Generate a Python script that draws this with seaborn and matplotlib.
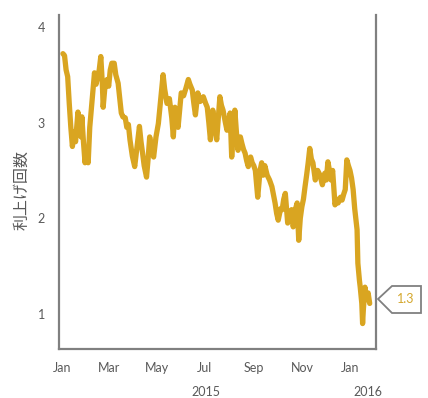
import pandas as pd
import matplotlib
matplotlib.use("Agg")
import matplotlib.pyplot as plt
import matplotlib.dates as mdates
from matplotlib.patches import Polygon
import seaborn as sns

# Datos: fecha y numero de subidas de tipos
fechas = [
    "2015-01-02", "2015-01-04", "2015-01-06", "2015-01-08", "2015-01-10", "2015-01-12",
    "2015-01-14", "2015-01-16", "2015-01-18", "2015-01-21", "2015-01-23", "2015-01-25",
    "2015-01-26", "2015-01-28", "2015-01-30", "2015-02-01", "2015-02-03", "2015-02-05",
    "2015-02-08", "2015-02-09", "2015-02-11", "2015-02-13", "2015-02-15", "2015-02-17",
    "2015-02-19", "2015-02-21", "2015-02-22", "2015-02-24", "2015-02-27", "2015-03-01",
    "2015-03-03", "2015-03-05", "2015-03-08", "2015-03-10", "2015-03-13", "2015-03-15",
    "2015-03-17", "2015-03-19", "2015-03-22", "2015-03-24", "2015-03-26", "2015-03-28",
    "2015-03-31", "2015-04-03", "2015-04-06", "2015-04-09", "2015-04-11", "2015-04-13",
    "2015-04-15", "2015-04-18", "2015-04-20", "2015-04-22", "2015-04-25", "2015-04-27",
    "2015-04-30", "2015-05-03", "2015-05-06", "2015-05-09", "2015-05-11", "2015-05-14",
    "2015-05-17", "2015-05-20", "2015-05-22", "2015-05-24", "2015-05-26", "2015-05-28",
    "2015-06-01", "2015-06-04", "2015-06-07", "2015-06-10", "2015-06-12", "2015-06-15",
    "2015-06-17", "2015-06-19", "2015-06-22", "2015-06-25", "2015-06-29", "2015-07-02",
    "2015-07-04", "2015-07-06", "2015-07-08", "2015-07-11", "2015-07-13", "2015-07-16",
    "2015-07-18", "2015-07-20", "2015-07-22", "2015-07-24", "2015-07-27", "2015-07-29",
    "2015-08-02", "2015-08-04", "2015-08-06", "2015-08-08", "2015-08-10", "2015-08-12",
    "2015-08-15", "2015-08-17", "2015-08-19", "2015-08-21", "2015-08-23", "2015-08-25",
    "2015-08-28", "2015-08-30", "2015-09-01", "2015-09-03", "2015-09-06", "2015-09-09",
    "2015-09-11", "2015-09-13", "2015-09-15", "2015-09-18", "2015-09-21", "2015-09-24",
    "2015-09-28", "2015-09-30", "2015-10-02", "2015-10-05", "2015-10-07", "2015-10-09",
    "2015-10-11", "2015-10-14", "2015-10-16", "2015-10-19", "2015-10-21", "2015-10-24",
    "2015-10-26", "2015-10-28", "2015-10-30", "2015-11-01", "2015-11-03", "2015-11-05",
    "2015-11-07", "2015-11-09", "2015-11-11", "2015-11-13", "2015-11-15", "2015-11-18",
    "2015-11-21", "2015-11-24", "2015-11-27", "2015-11-30", "2015-12-02", "2015-12-04",
    "2015-12-06", "2015-12-08", "2015-12-10", "2015-12-13", "2015-12-15", "2015-12-17",
    "2015-12-20", "2015-12-22", "2015-12-24", "2015-12-26", "2015-12-28", "2015-12-30",
    "2016-01-01", "2016-01-03", "2016-01-05", "2016-01-07", "2016-01-10", "2016-01-11",
    "2016-01-13", "2016-01-14", "2016-01-16", "2016-01-17", "2016-01-18", "2016-01-20",
    "2016-01-22", "2016-01-24", "2016-01-26",
]
subidas = [
    3.72, 3.70, 3.55, 3.48, 3.20, 2.95,
    2.75, 2.90, 2.80, 3.11, 2.95, 2.85,
    3.06, 2.80, 2.58, 2.70, 2.58, 2.95,
    3.24, 3.35, 3.52, 3.40, 3.48, 3.55,
    3.69, 3.40, 3.16, 3.35, 3.45, 3.38,
    3.55, 3.62, 3.62, 3.50, 3.41, 3.25,
    3.10, 3.06, 3.05, 2.95, 2.98, 2.82,
    2.65, 2.54, 2.75, 2.96, 2.80, 2.68,
    2.55, 2.43, 2.62, 2.85, 2.70, 2.64,
    2.85, 2.99, 3.25, 3.50, 3.35, 3.20,
    3.25, 3.05, 2.85, 3.16, 3.05, 2.95,
    3.31, 3.28, 3.36, 3.45, 3.40, 3.34,
    3.20, 3.08, 3.31, 3.22, 3.27, 3.20,
    3.16, 3.00, 2.82, 3.13, 3.00, 2.82,
    3.05, 3.27, 3.18, 3.13, 3.00, 2.92,
    3.10, 2.64, 2.90, 3.13, 2.90, 2.71,
    2.85, 2.78, 2.72, 2.68, 2.60, 2.54,
    2.64, 2.58, 2.55, 2.50, 2.22, 2.50,
    2.58, 2.45, 2.55, 2.45, 2.40, 2.33,
    2.16, 2.05, 1.98, 2.10, 2.09, 2.20,
    2.26, 1.95, 2.05, 2.09, 1.91, 2.10,
    2.16, 1.77, 2.00, 2.12, 2.20, 2.33,
    2.45, 2.58, 2.73, 2.62, 2.58, 2.40,
    2.50, 2.45, 2.35, 2.47, 2.40, 2.59,
    2.50, 2.40, 2.50, 2.14, 2.20, 2.16,
    2.22, 2.19, 2.25, 2.30, 2.61, 2.55,
    2.50, 2.42, 2.30, 2.10, 1.88, 1.53,
    1.35, 1.28, 1.11, 0.90, 1.05, 1.28,
    1.15, 1.22, 1.11,
]

etiquetas_y = [1, 2, 3, 4]
ticks_x = ["2015-01-01", "2015-03-01", "2015-05-01", "2015-07-01",
           "2015-09-01", "2015-11-01", "2016-01-01"]
etiquetas_x = ["Jan", "Mar", "May", "Jul", "Sep", "Nov", "Jan"]
anios = ["2015", "2016"]
anios_pos = ["2015-07-02", "2016-01-24"]
valor_final = "1.3"

df = pd.DataFrame({"fecha": pd.to_datetime(fechas), "subidas": subidas})

sns.set_style("white")
plt.rcParams["font.family"] = ["Lato", "DejaVu Sans"]

oro = "#D9A521"
gris = "#808080"
texto = "#595959"

fig = plt.figure(figsize=(4.28, 3.98), dpi=100)
ax = fig.add_axes([59 / 428, 49 / 398, 317 / 428, 334 / 398])

sns.lineplot(data=df, x="fecha", y="subidas", color=oro, linewidth=3.8, ax=ax)

ax.set_xlim(pd.Timestamp("2014-12-28"), pd.Timestamp("2016-02-03"))
ax.set_ylim(0.634, 4.124)
ax.set_yticks(etiquetas_y)
ax.set_yticklabels([str(v) for v in etiquetas_y])
ax.set_xticks(pd.to_datetime(ticks_x))
ax.set_xticklabels(etiquetas_x)
ax.tick_params(axis="both", length=0, labelsize=9, labelcolor=texto)
ax.tick_params(axis="x", pad=9)
ax.tick_params(axis="y", pad=10)

ax.set_xlabel("")
ax.set_ylabel("利上げ回数", family=["Noto Sans CJK JP", "DejaVu Sans"],
              fontsize=11.5, color=texto)
ax.yaxis.set_label_coords(-0.09, 0.476)

for lado in ["left", "bottom", "right"]:
    ax.spines[lado].set_color(gris)
    ax.spines[lado].set_linewidth(1.6)
ax.spines["top"].set_visible(False)

# Etiquetas de anio bajo el eje
trans = ax.get_xaxis_transform()
for anio, pos in zip(anios, anios_pos):
    ax.text(mdates.date2num(pd.Timestamp(pos)), -0.128, anio, transform=trans,
            ha="center", va="center", fontsize=9, color=texto)

# Cajita con el ultimo valor
forma = [(378, 299), (392, 286), (421, 286), (421, 313), (392, 313)]
forma = [(x / 428, 1 - y / 398) for x, y in forma]
fig.add_artist(Polygon(forma, closed=True, facecolor="white", edgecolor=gris,
                       linewidth=1.3, transform=fig.transFigure))
fig.text(406 / 428, 1 - 299 / 398, valor_final, ha="center", va="center",
         fontsize=9, color="#D4A72C")

fig.savefig("out.png", dpi=100)
